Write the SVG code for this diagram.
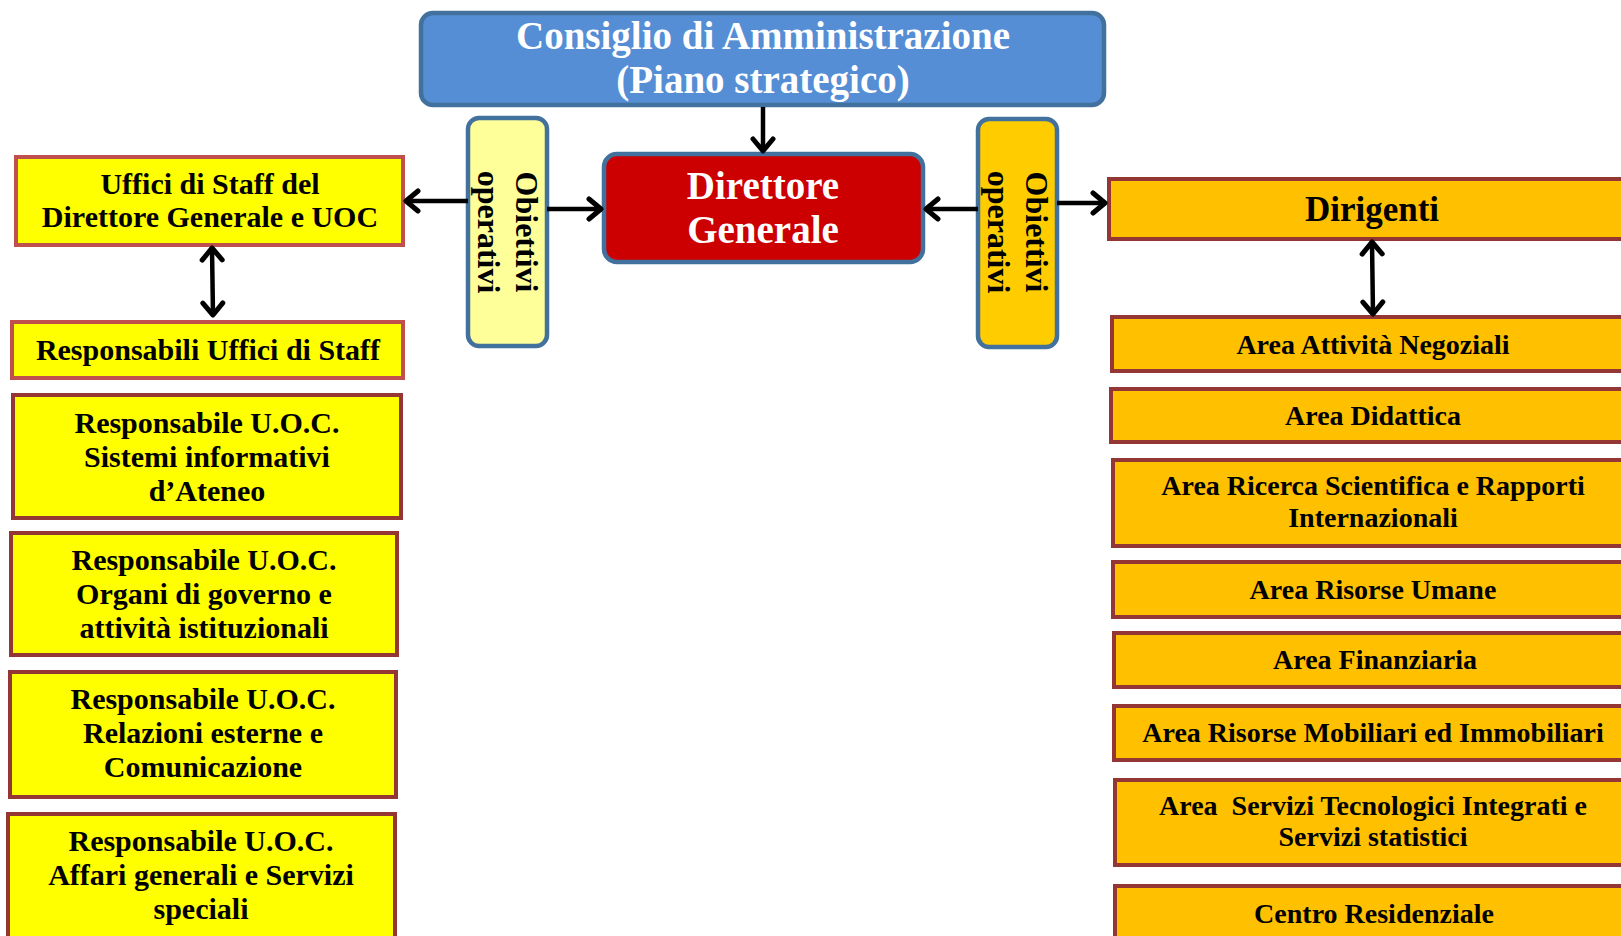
<svg xmlns="http://www.w3.org/2000/svg" width="1621" height="936" viewBox="0 0 1621 936">
<style>
text{font-family:"Liberation Serif","DejaVu Serif",serif;font-weight:bold;text-anchor:middle}
.w{fill:#fff;font-size:39px}
.b{fill:#000;font-size:28px}
.l{fill:#000;font-size:30px}
.d{fill:#000;font-size:35px}
.o{fill:#000;font-size:32px}
.staff{fill:#FFFF00;stroke:#C0504D;stroke-width:4}
.uoc{fill:#FFFF00;stroke:#943634;stroke-width:4}
.area{fill:#FFC000;stroke:#943634;stroke-width:4}
.blue{stroke:#41719C;stroke-width:4.5}
.c{stroke:#000;stroke-width:4.5;fill:none}
</style>
<defs>
<marker id="ah" markerUnits="userSpaceOnUse" markerWidth="30" markerHeight="30" viewBox="-15 -15 30 30" refX="0" refY="0" orient="auto-start-reverse">
<path d="M-12,-10 L0,0 L-12,10" fill="none" stroke="#000" stroke-width="5" stroke-linecap="round" stroke-linejoin="round"/>
</marker>
</defs>
<rect width="1621" height="936" fill="#fff"/>

<g id="consiglio">
<rect x="421" y="13" width="683" height="92" rx="12" fill="#558ED5" class="blue"/>
<text class="w" x="763" y="49">Consiglio di Amministrazione</text>
<text class="w" x="763" y="93">(Piano strategico)</text>
</g>

<g id="direttore">
<rect x="604" y="154" width="319" height="108" rx="13" fill="#CC0000" class="blue"/>
<text class="w" x="763" y="199">Direttore</text>
<text class="w" x="763" y="243">Generale</text>
</g>

<g id="obiettivi-sx">
<rect x="468" y="118" width="79" height="228" rx="11" fill="#FFFF99" class="blue"/>
<g transform="translate(507.5,232) rotate(90)">
<text class="o" x="0" y="-8">Obiettivi</text>
<text class="o" x="0" y="30">operativi</text>
</g>
</g>

<g id="obiettivi-dx">
<rect x="978" y="119" width="79" height="228" rx="11" fill="#FFCC00" class="blue"/>
<g transform="translate(1017.5,232) rotate(90)">
<text class="o" x="0" y="-8">Obiettivi</text>
<text class="o" x="0" y="30">operativi</text>
</g>
</g>

<g id="uffici-staff">
<rect x="16" y="157" width="387" height="88" class="staff"/>
<text class="l" x="210" y="194">Uffici di Staff del</text>
<text class="l" x="210" y="227">Direttore Generale e UOC</text>
</g>

<g id="responsabili-staff">
<rect x="12" y="322" width="391" height="56" class="staff"/>
<text class="l" x="208" y="360">Responsabili Uffici di Staff</text>
</g>

<g id="uoc-sistemi">
<rect x="13" y="395" width="388" height="123" class="uoc"/>
<text class="l" x="207" y="433">Responsabile U.O.C.</text>
<text class="l" x="207" y="467">Sistemi informativi</text>
<text class="l" x="207" y="501">d’Ateneo</text>
</g>

<g id="uoc-organi">
<rect x="11" y="533" width="386" height="122" class="uoc"/>
<text class="l" x="204" y="570">Responsabile U.O.C.</text>
<text class="l" x="204" y="604">Organi di governo e</text>
<text class="l" x="204" y="638">attività istituzionali</text>
</g>

<g id="uoc-relazioni">
<rect x="10" y="672" width="386" height="125" class="uoc"/>
<text class="l" x="203" y="709">Responsabile U.O.C.</text>
<text class="l" x="203" y="743">Relazioni esterne e</text>
<text class="l" x="203" y="777">Comunicazione</text>
</g>

<g id="uoc-affari">
<rect x="8" y="814" width="387" height="130" class="uoc"/>
<text class="l" x="201" y="851">Responsabile U.O.C.</text>
<text class="l" x="201" y="885">Affari generali e Servizi</text>
<text class="l" x="201" y="919">speciali</text>
</g>

<g id="dirigenti">
<rect x="1109" y="179" width="530" height="60" class="area"/>
<text class="d" x="1372" y="221">Dirigenti</text>
</g>

<g id="area-negoziali">
<rect x="1112" y="317" width="530" height="54" class="area"/>
<text class="b" x="1373" y="354">Area Attività Negoziali</text>
</g>

<g id="area-didattica">
<rect x="1111" y="389" width="530" height="53" class="area"/>
<text class="b" x="1373" y="425">Area Didattica</text>
</g>

<g id="area-ricerca">
<rect x="1113" y="460" width="530" height="86" class="area"/>
<text class="b" x="1373" y="495">Area Ricerca Scientifica e Rapporti</text>
<text class="b" x="1373" y="527">Internazionali</text>
</g>

<g id="area-risorse-umane">
<rect x="1113" y="562" width="530" height="55" class="area"/>
<text class="b" x="1373" y="599">Area Risorse Umane</text>
</g>

<g id="area-finanziaria">
<rect x="1114" y="633" width="530" height="54" class="area"/>
<text class="b" x="1375" y="669">Area Finanziaria</text>
</g>

<g id="area-mobiliari">
<rect x="1114" y="706" width="530" height="54" class="area"/>
<text class="b" x="1373" y="742">Area Risorse Mobiliari ed Immobiliari</text>
</g>

<g id="area-servizi">
<rect x="1115" y="780" width="530" height="85" class="area"/>
<text class="b" x="1373" y="815" xml:space="preserve">Area  Servizi Tecnologici Integrati e</text>
<text class="b" x="1373" y="846">Servizi statistici</text>
</g>

<g id="centro-residenziale">
<rect x="1115" y="886" width="530" height="60" class="area"/>
<text class="b" x="1374" y="923">Centro Residenziale</text>
</g>

<g id="connectors">
<line class="c" x1="763" y1="107" x2="763" y2="151" marker-end="url(#ah)"/>
<line class="c" x1="547" y1="209" x2="601" y2="209" marker-end="url(#ah)"/>
<line class="c" x1="468" y1="201" x2="406" y2="201" marker-end="url(#ah)"/>
<line class="c" x1="978" y1="209" x2="926" y2="209" marker-end="url(#ah)"/>
<line class="c" x1="1057" y1="203" x2="1105" y2="203" marker-end="url(#ah)"/>
<line class="c" x1="212" y1="248" x2="213" y2="315" marker-start="url(#ah)" marker-end="url(#ah)"/>
<line class="c" x1="1372" y1="242" x2="1373" y2="314" marker-start="url(#ah)" marker-end="url(#ah)"/>
</g>
</svg>
